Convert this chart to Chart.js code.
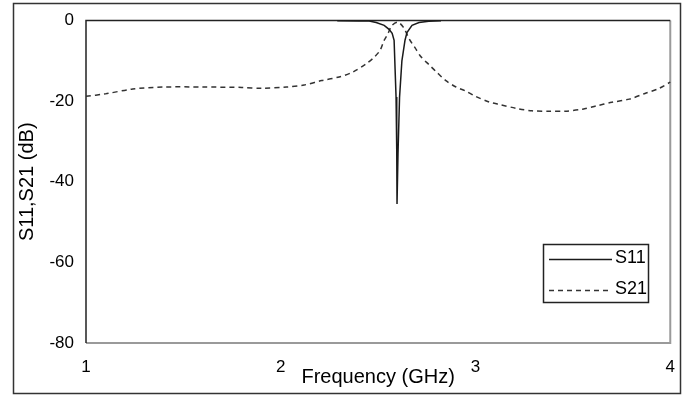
<!DOCTYPE html>
<html>
<head>
<meta charset="utf-8">
<script src="https://cdn.jsdelivr.net/npm/chart.js@4.4.1/dist/chart.umd.min.js"></script>
<style>
  body { margin: 0; background: #fff; }
  #wrap { width: 689px; height: 399px; position: relative; }
</style>
</head>
<body>
<div id="wrap"><canvas id="sparam"></canvas></div>
<script>
// frequency in GHz, S-parameters in dB
const s21Freq = [1.00, 1.10, 1.24, 1.40, 1.60, 1.80, 1.90, 2.03, 2.12, 2.21, 2.30, 2.37, 2.44, 2.48, 2.51, 2.53, 2.55, 2.57, 2.60,
  2.63, 2.66, 2.69, 2.72, 2.76, 2.80, 2.85, 2.90, 2.95, 3.00, 3.07, 3.12, 3.21, 3.29, 3.38, 3.46, 3.55, 3.62, 3.70, 3.79, 3.87, 3.94, 4.00];
const s21Values = [-18.8, -18.2, -17.0, -16.5, -16.5, -16.6, -16.8, -16.5, -16.0, -14.9, -14.0, -12.8, -10.7, -9.1, -7.4, -5.0, -3.3, -1.3, -0.4,
  -1.7, -4.6, -6.8, -9.0, -10.9, -12.8, -15.0, -16.5, -17.5, -18.8, -20.2, -20.8, -21.8, -22.4, -22.5, -22.5, -22.0, -21.2, -20.3, -19.5, -18.1, -16.9, -15.3];

const s11Freq = [2.29, 2.40, 2.454, 2.49, 2.531, 2.556, 2.572, 2.582, 2.587, 2.592, 2.5955, 2.597, 2.602, 2.61, 2.622, 2.638, 2.648, 2.674, 2.71, 2.76, 2.823];
const s11Values = [-0.05, -0.1, -0.1, -0.5, -1.2, -2.2, -3.2, -4.9, -12, -19, -32, -45.5, -33, -19, -10, -4.9, -3.0, -1.2, -0.5, -0.2, -0.05];

const seriesNames = ['S11', 'S21'];
const xTicks = [1, 2, 3, 4];
const yTicks = [0, -20, -40, -60, -80];

const FONT = '"Liberation Sans", Arial, sans-serif';

const toPoints = (xs, ys) => xs.map((x, i) => ({ x: x, y: ys[i] }));

const frameAndLegend = {
  id: 'frameAndLegend',
  beforeDatasetsDraw(chart) {
    const { ctx, chartArea: a } = chart;
    ctx.save();
    // right / bottom edges lighter, left / top dark
    ctx.lineWidth = 2;
    ctx.strokeStyle = '#9a9a9a';
    ctx.beginPath();
    ctx.moveTo(a.right, a.top);
    ctx.lineTo(a.right, a.bottom);
    ctx.lineTo(a.left, a.bottom);
    ctx.stroke();
    ctx.lineWidth = 1.5;
    ctx.strokeStyle = '#222';
    ctx.beginPath();
    ctx.moveTo(a.left, a.bottom);
    ctx.lineTo(a.left, a.top);
    ctx.lineTo(a.right, a.top);
    ctx.stroke();
    ctx.restore();
  },
  afterDraw(chart) {
    const { ctx } = chart;
    ctx.save();
    // outer border
    ctx.lineWidth = 1.5;
    ctx.strokeStyle = '#333';
    ctx.strokeRect(13.5, 3.5, 667, 390);

    // legend box
    ctx.lineWidth = 1.5;
    ctx.strokeStyle = '#222';
    ctx.fillStyle = '#fff';
    ctx.fillRect(543, 244, 106, 59);
    ctx.strokeRect(543.5, 244.5, 105, 58);

    const rows = [259, 290];
    ctx.font = '18px ' + FONT;
    ctx.textBaseline = 'middle';
    chart.data.datasets.forEach((ds, i) => {
      ctx.strokeStyle = ds.borderColor;
      ctx.lineWidth = ds.borderWidth;
      ctx.setLineDash(ds.borderDash || []);
      ctx.beginPath();
      ctx.moveTo(549, rows[i] + 0.5);
      ctx.lineTo(612, rows[i] + 0.5);
      ctx.stroke();
      ctx.setLineDash([]);
      ctx.fillStyle = '#000';
      ctx.fillText(ds.label, 615, rows[i] - 1);
    });
    ctx.restore();
  }
};

new Chart(document.getElementById('sparam'), {
  type: 'scatter',
  data: {
    datasets: [
      {
        label: seriesNames[0],
        data: toPoints(s11Freq, s11Values),
        showLine: true,
        borderColor: '#1a1a1a',
        borderWidth: 1.5,
        pointRadius: 0,
        tension: 0,
        clip: false
      },
      {
        label: seriesNames[1],
        data: toPoints(s21Freq, s21Values),
        showLine: true,
        borderColor: '#333',
        borderWidth: 1.5,
        borderDash: [5, 4],
        pointRadius: 0,
        tension: 0.3,
        clip: false
      }
    ]
  },
  options: {
    responsive: true,
    maintainAspectRatio: false,
    animation: false,
    layout: { padding: { top: 18, right: 17, bottom: 0, left: 13 } },
    plugins: { legend: { display: false }, tooltip: { enabled: false } },
    scales: {
      x: {
        type: 'linear',
        min: 1, max: 4,
        afterBuildTicks: s => { s.ticks = xTicks.map(v => ({ value: v })); },
        afterFit: s => { s.height = 56; },
        grid: { display: false, drawTicks: false },
        border: { display: false },
        ticks: { color: '#000', padding: 14, maxRotation: 0, font: { family: FONT, size: 17 } },
        title: { display: true, text: 'Frequency (GHz)', color: '#000', padding: { top: 0, bottom: 10 }, font: { family: FONT, size: 20 } }
      },
      y: {
        min: -80, max: 0,
        afterBuildTicks: s => { s.ticks = yTicks.map(v => ({ value: v })); },
        afterFit: s => { s.width = 73; },
        grid: { display: false, drawTicks: false },
        border: { display: false },
        ticks: { color: '#000', padding: 12, font: { family: FONT, size: 17, lineHeight: 1 } },
        title: { display: true, text: 'S11,S21 (dB)', color: '#000', padding: { top: 2, bottom: 0 }, font: { family: FONT, size: 20 } }
      }
    }
  },
  plugins: [frameAndLegend]
});
</script>
</body>
</html>
